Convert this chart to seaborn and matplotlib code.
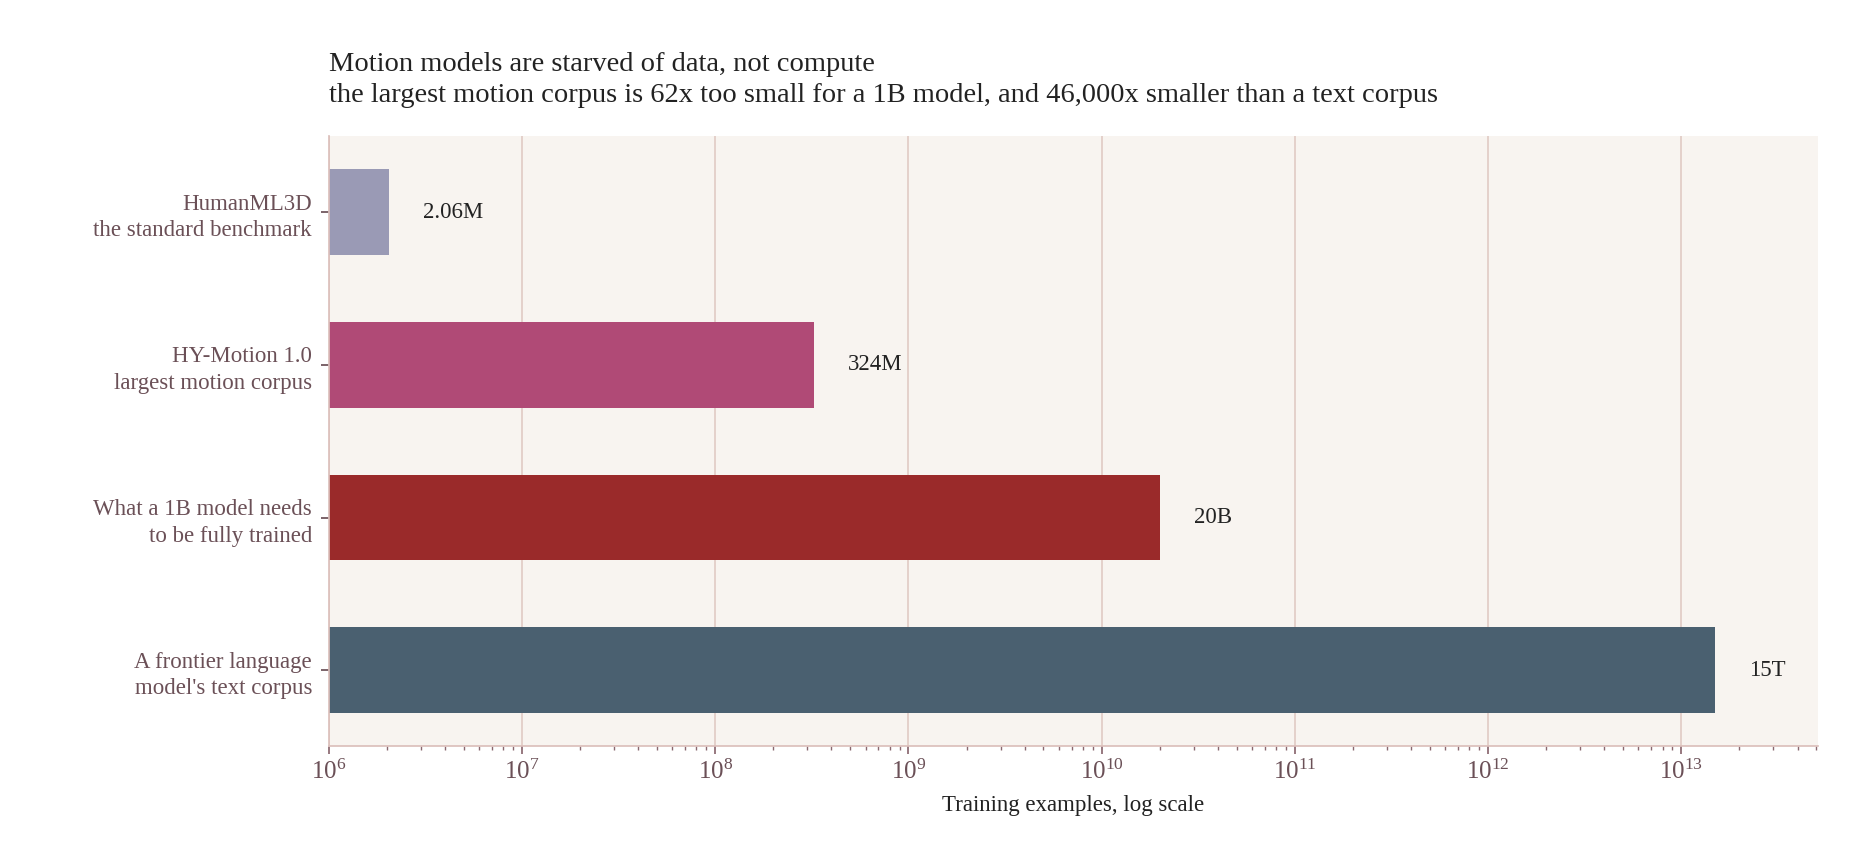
import matplotlib
matplotlib.use("Agg")
import matplotlib.pyplot as plt
import seaborn as sns
import pandas as pd
from matplotlib.ticker import LogLocator

labels = ["HumanML3D\nthe standard benchmark", "HY-Motion 1.0\nlargest motion corpus",
          "What a 1B model needs\nto be fully trained", "A frontier language\nmodel's text corpus"]
values = [2.06e6, 324e6, 20e9, 15e12]
value_text = ["2.06M", "324M", "20B", "15T"]
colors = ["#9a9ab5", "#b04a76", "#9a2a2a", "#4a6070"]

sns.set_theme(style="white")
plt.rcParams['font.family'] = ['Liberation Serif', 'DejaVu Serif']

fig = plt.figure(figsize=(18.57, 8.6), dpi=100)
ax = fig.add_axes([0.177, 0.132, 0.802, 0.71])
ax.set_facecolor("#f8f4f0")
df = pd.DataFrame({"label": labels, "value": values})
sns.barplot(data=df, x="value", y="label", hue="label", palette=colors, orient="h",
            width=0.56, ax=ax, legend=False, saturation=1, linewidth=0)
ax.set_xscale("log")
ax.set_xlim(1e6, 5.1e13)
ax.set_ylim(3.5, -0.5)
ax.xaxis.set_major_locator(LogLocator(base=10, numticks=20))
ax.xaxis.set_minor_locator(LogLocator(base=10, subs=range(2, 10), numticks=200))
ax.grid(axis="x", which="major", color="#e0cac4", lw=1.2)
ax.set_axisbelow(True)
for s in ["top", "right"]:
    ax.spines[s].set_visible(False)
for s in ["left", "bottom"]:
    ax.spines[s].set_color("#dcc0bc")
ax.tick_params(axis="x", which="major", length=6, color="#8a6870", labelsize=18, labelcolor="#6b5057", bottom=True)
ax.tick_params(axis="x", which="minor", length=3, color="#8a6870", bottom=True)
ax.tick_params(axis="y", length=6, color="#6b5057", labelsize=16.5, labelcolor="#6b5057", left=True, pad=6)
for t in ax.get_yticklabels():
    t.set_horizontalalignment("right")
    t.set_linespacing(1.35)
for i, (v, t) in enumerate(zip(values, value_text)):
    ax.text(v * 1.5, i, t, va="center", ha="left", fontsize=16.5, color="#222222")
ax.set_xlabel("Training examples, log scale", fontsize=16.5, color="#222222", labelpad=8)
ax.set_ylabel("")
ax.text(0, 1.045, "Motion models are starved of data, not compute\nthe largest motion corpus is 62x too small for a 1B model, and 46,000x smaller than a text corpus",
        transform=ax.transAxes, ha="left", va="bottom", fontsize=20.5, color="#222222", linespacing=1.35)
fig.savefig("out.png", dpi=100, facecolor="white")
